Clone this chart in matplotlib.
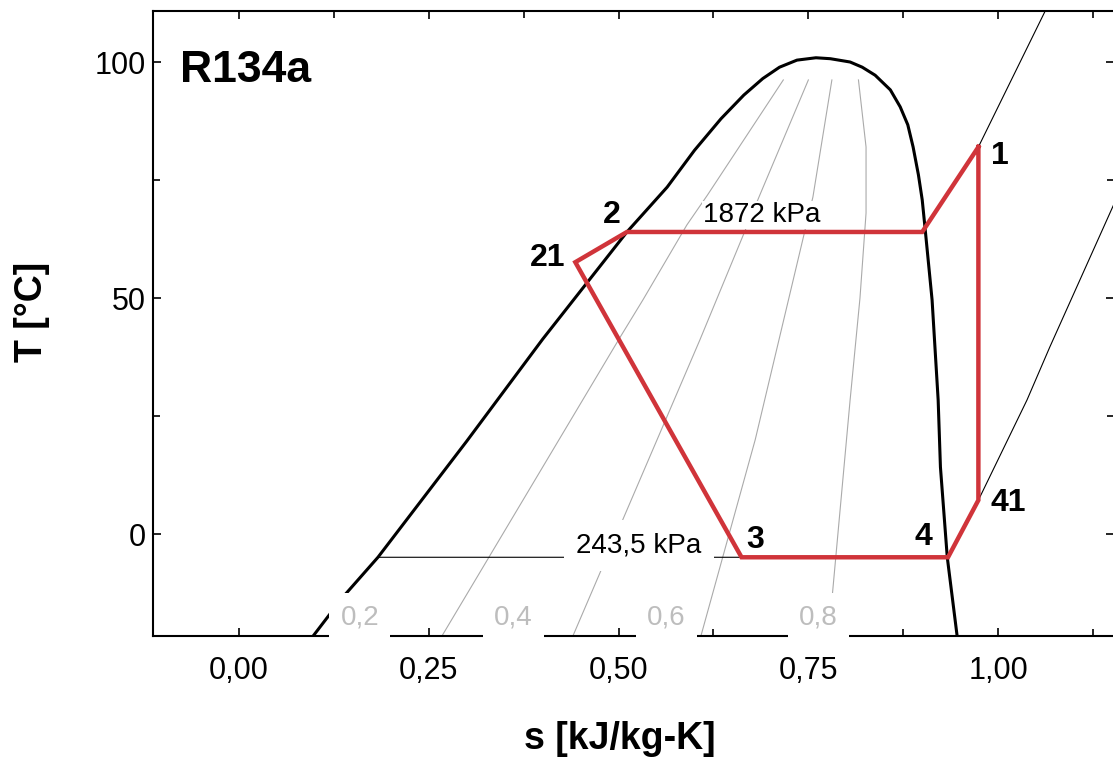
import numpy as np
import matplotlib
matplotlib.use("Agg")
import matplotlib.pyplot as plt
from matplotlib.ticker import MultipleLocator, FuncFormatter

plt.rcParams['font.family'] = ['Liberation Sans', 'DejaVu Sans']

# saturation dome (s [kJ/kg-K], T [C])
dome_s = [0.080, 0.0975, 0.137, 0.183, 0.300, 0.400, 0.511, 0.564, 0.600,
          0.635, 0.665, 0.690, 0.712, 0.735, 0.760, 0.779, 0.805, 0.821, 0.838,
          0.858, 0.871, 0.881, 0.888, 0.895, 0.900, 0.904, 0.913, 0.921, 0.924,
          0.933, 0.946, 0.949]
dome_T = [-25.0, -21.6, -13.3, -4.9, 19.7, 41.3, 64.0, 73.5, 81.3,
          88.0, 93.0, 96.5, 98.9, 100.4, 100.9, 100.7, 100.0, 98.9, 97.2,
          94.1, 90.5, 86.7, 82.0, 76.1, 70.8, 64.4, 49.6, 28.4, 14.2,
          -4.9, -21.6, -24.6]

# constant quality lines
qual_names = ['0,2', '0,4', '0,6', '0,8']
qual_s = [[0.262, 0.502, 0.532, 0.590, 0.617, 0.717],
          [0.436, 0.607, 0.686, 0.750],
          [0.606, 0.680, 0.756, 0.781],
          [0.775, 0.780, 0.805, 0.818, 0.826, 0.826, 0.816]]
qual_T = [[-23.0, 41.7, 49.6, 65.5, 71.8, 96.2],
          [-23.0, 41.1, 71.8, 96.2],
          [-23.0, 20.0, 71.4, 96.2],
          [-23.0, -15.7, 28.4, 50.0, 68.0, 82.0, 96.2]]
qual_lbl_s = [0.159, 0.361, 0.563, 0.763]
qual_lbl_T = [-17.6, -17.6, -17.6, -17.6]

# isobars
p_high_s = [0.511, 0.900, 0.937, 0.974, 1.062, 1.075]
p_high_T = [64.0, 64.0, 73.0, 82.0, 110.8, 116.0]
p_low_s = [0.183, 0.934, 0.955, 0.974, 1.038, 1.068, 1.152, 1.170]
p_low_T = [-4.9, -4.9, 1.5, 7.2, 28.4, 39.6, 69.7, 76.0]

# refrigeration cycle
cyc_s = [0.974, 0.900, 0.511, 0.443, 0.662, 0.934, 0.974, 0.974]
cyc_T = [82.0, 64.0, 64.0, 57.6, -4.9, -4.9, 7.2, 82.0]
pt_names = ['1', '2', '21', '3', '4', '41']
pt_s = [0.990, 0.479, 0.383, 0.668, 0.890, 0.990]
pt_T = [80.0, 67.5, 58.5, -1.2, -0.5, 6.5]

fig = plt.figure(figsize=(11.13, 7.6), dpi=100)
ax = fig.add_axes([0.1375, 0.163, 0.8635, 0.8225])

ax.plot(dome_s, dome_T, color='black', lw=2.2, zorder=3)
for qs, qT in zip(qual_s, qual_T):
    ax.plot(qs, qT, color='#aaaaaa', lw=0.8, zorder=2)
ax.plot(p_high_s, p_high_T, color='black', lw=0.8, zorder=2)
ax.plot(p_low_s, p_low_T, color='black', lw=0.8, zorder=2)
ax.plot(cyc_s, cyc_T, color='#d0343a', lw=3.2, solid_joinstyle='miter', zorder=4)

# isobar labels with white boxes
ax.text(0.689, 67.6, '1872 kPa', fontsize=20, ha='center', va='center', zorder=3,
        bbox=dict(fc='white', ec='none', pad=1))
ax.text(0.527, -2.4, '243,5 kPa', fontsize=20, ha='center', va='center', zorder=3,
        bbox=dict(fc='white', ec='none', pad=9))

# quality labels on the bottom edge
for name, ls, lT in zip(qual_names, qual_lbl_s, qual_lbl_T):
    ax.text(ls, lT, name, fontsize=20, color='#bdbdbd', ha='center', va='center',
            zorder=6, clip_on=False,
            bbox=dict(boxstyle='square,pad=0.4', fc='white', ec='none'))

for name, ps, pT in zip(pt_names, pt_s, pt_T):
    ax.text(ps, pT, name, fontsize=23, fontweight='bold', ha='left', va='center', zorder=5)

ax.text(-0.078, 98.3, 'R134a', fontsize=32, fontweight='bold', ha='left', va='center')

ax.set_xlim(-0.1133, 1.1528)
ax.set_ylim(-21.6, 110.8)
ax.xaxis.set_major_locator(MultipleLocator(0.25))
ax.xaxis.set_minor_locator(MultipleLocator(0.125))
ax.yaxis.set_major_locator(MultipleLocator(50))
ax.yaxis.set_minor_locator(MultipleLocator(25))
ax.xaxis.set_major_formatter(FuncFormatter(lambda v, p: f'{v:.2f}'.replace('.', ',')))
ax.tick_params(which='both', direction='in', top=True, right=True, labelsize=22,
               width=1.2)
ax.tick_params(axis='x', pad=14)
ax.tick_params(axis='y', pad=5)
ax.tick_params(which='major', length=6)
ax.tick_params(which='minor', length=5)
for sp in ax.spines.values():
    sp.set_linewidth(1.5)

ax.set_xlabel('s [kJ/kg-K]', fontsize=27, fontweight='bold')
ax.set_ylabel('T [°C]', fontsize=27, fontweight='bold')
ax.xaxis.set_label_coords(0.486, -0.135)
ax.yaxis.set_label_coords(-0.107, 0.518)

fig.savefig('out.png', dpi=100)
